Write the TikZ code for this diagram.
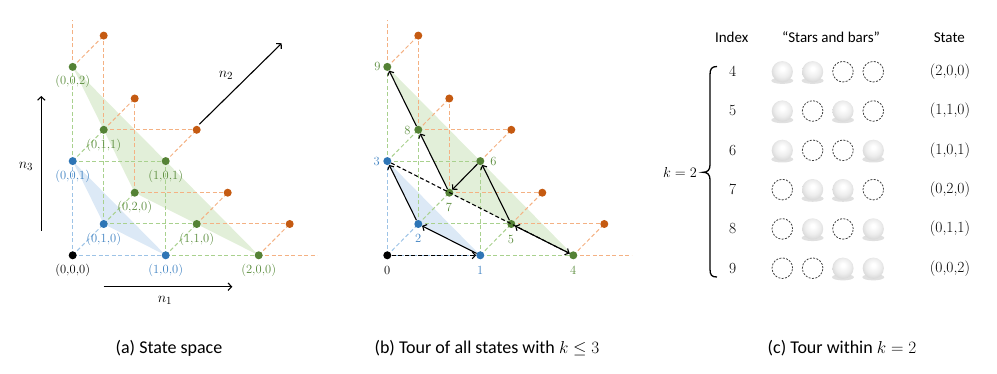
\documentclass[tikz,border=0pt]{standalone}
\usepackage{fontspec}
\newfontfamily\calfont{Carlito}
\usetikzlibrary{arrows.meta}
\definecolor{cblue}{HTML}{2E75B6}
\definecolor{cgreen}{HTML}{548235}
\definecolor{corange}{HTML}{C55A11}
\definecolor{lblue}{HTML}{9DC3E6}
\definecolor{lgreen}{HTML}{A9D18E}
\definecolor{lorange}{HTML}{F4B183}
\definecolor{fblue}{HTML}{DCE9F6}
\definecolor{fgreen}{HTML}{E2EFD9}
\definecolor{tblue}{HTML}{3F82C2}
\definecolor{tgreen}{HTML}{5A8C3C}
\pgfdeclareradialshading{softball}{\pgfpoint{0bp}{8bp}}{color(0bp)=(white); color(4bp)=(white); color(18bp)=(black!7); color(30bp)=(black!17); color(50bp)=(black!17)}
\tikzset{
  dot/.style={circle, inner sep=0pt, minimum size=8pt, draw=none},
  dedge/.style={dash pattern=on 4pt off 2.5pt, line width=1pt},
  lbl/.style={font=\fontsize{12.5}{14}\selectfont, inner sep=0pt},
  numlbl/.style={font=\fontsize{12.5}{14}\selectfont, inner sep=0pt},
  arr/.style={-{Straight Barb[length=3.2pt,width=7pt]}, line width=1.1pt, black},
  darr/.style={arr, dash pattern=on 4pt off 2.5pt},
  axis/.style={-{Straight Barb[length=3.5pt,width=7.5pt]}, line width=1.1pt, black},
  axlbl/.style={font=\fontsize{15}{18}\selectfont, inner sep=0pt},
  hdr/.style={font=\calfont\fontsize{15}{18}\selectfont, inner sep=0pt},
  captxt/.style={font=\calfont\fontsize{18}{22}\selectfont, inner sep=0pt, anchor=base},
  ctext/.style={font=\fontsize{15.5}{18}\selectfont, inner sep=0pt},
  emptyball/.style={draw=black!75, line width=0.8pt, dash pattern=on 2pt off 1.4pt},
  fullball/.style={shading=softball},
  ballshadow/.style={fill=black!12},
  bracestyle/.style={line width=1.3pt, black},
}
\newcommand\statepanel[2]{%
  \foreach \i/\j/\k in {0/0/0,1/0/0,0/1/0,0/0/1,2/0/0,1/1/0,1/0/1,0/2/0,0/1/1,0/0/2,2/1/0,1/2/0,1/1/1,0/2/1,0/1/2}{
    \coordinate (#1\i\j\k) at ({#2+93*\i+31*\j},{255.3-31.3*\j-94.2*\k});
  }
  \coordinate (#1cutv) at (#2,20);
  \coordinate (#1cuth) at ({#2+244.5},255.3);
  \fill[fblue] (#1001) -- (#1010) -- (#1100) -- cycle;
  \fill[fgreen] (#1002) -- (#1020) -- (#1200) -- cycle;
  \foreach \ea/\eb in {000/100,000/010,000/001}{\draw[dedge,lblue] (#1\ea) -- (#1\eb);}
  \foreach \ea/\eb in {100/200,100/110,100/101,010/110,010/020,010/011,001/101,001/011,001/002}{\draw[dedge,lgreen] (#1\ea) -- (#1\eb);}
  \foreach \ea/\eb in {002/cutv,002/012,011/012,011/021,020/021,011/111,101/111,020/120,110/120,110/210,200/210,200/cuth}{\draw[dedge,lorange] (#1\ea) -- (#1\eb);}
  \foreach \n/\c in {000/black,100/cblue,010/cblue,001/cblue,200/cgreen,110/cgreen,101/cgreen,020/cgreen,011/cgreen,002/cgreen,210/corange,120/corange,111/corange,021/corange,012/corange}{
    \node[dot,fill=\c] (#1d\n) at (#1\n) {};
  }
}
\newcommand\ballrow[5]{% y, then 4 flags
  \foreach \f [count=\c from 0] in {#2,#3,#4,#5}{
    \pgfmathsetmacro\bx{782.3+30.33*\c}
    \ifnum\f=1
      \fill[ballshadow] (\bx,{#1+9}) ellipse [x radius=11pt, y radius=3.2pt];
      \path[fullball] (\bx,#1) circle [radius=10.6pt];
    \else
      \draw[emptyball] (\bx,#1) circle [radius=10.3pt];
    \fi
  }
}
\begin{document}
\begin{tikzpicture}[x=1pt,y=-1pt]
\useasboundingbox (0,0) rectangle (997,374);
% ---------- panel (a)
\statepanel{a}{72.7}
\node[lbl,black]  (la000) at (72.7,270) {(0,0,0)};
\node[lbl,tblue]  (la100) at (165.7,270) {(1,0,0)};
\node[lbl,tgreen] (la200) at (258.7,270) {(2,0,0)};
\node[lbl,tblue]  (la010) at (103.7,239) {(0,1,0)};
\node[lbl,tgreen] (la110) at (196.7,239) {(1,1,0)};
\node[lbl,tgreen] (la020) at (134.7,207.5) {(0,2,0)};
\node[lbl,tblue]  (la001) at (72.7,176) {(0,0,1)};
\node[lbl,tgreen] (la101) at (165.7,176) {(1,0,1)};
\node[lbl,tgreen] (la011) at (103.7,145) {(0,1,1)};
\node[lbl,tgreen] (la002) at (72.7,81) {(0,0,2)};
\coordinate (n1s) at (103.7,286.7); \coordinate (n1e) at (232.3,286.7);
\coordinate (n3s) at (41.3,230.7);  \coordinate (n3e) at (41.3,96);
\coordinate (n2s) at (199.3,124.3); \coordinate (n2e) at (281.7,43.3);
\draw[axis] (n1s) -- (n1e);
\draw[axis] (n3s) -- (n3e);
\draw[axis] (n2s) -- (n2e);
\node[axlbl] (ln1) at (165,300) {$n_1$};
\node[axlbl] (ln3) at (26,166.7) {$n_3$};
\node[axlbl] (ln2) at (226,75) {$n_2$};
% ---------- panel (b)
\statepanel{b}{387.3}
\node[numlbl,black]  (lb0) at (387.3,270) {0};
\node[numlbl,tblue]  (lb1) at (480.3,270) {1};
\node[numlbl,tblue]  (lb2) at (418.3,238.5) {2};
\node[numlbl,tblue]  (lb3) at (376.7,161.1) {3};
\node[numlbl,tgreen] (lb4) at (573.3,270) {4};
\node[numlbl,tgreen] (lb5) at (511,239.5) {5};
\node[numlbl,tgreen] (lb6) at (493.5,161.1) {6};
\node[numlbl,tgreen] (lb7) at (449,207) {7};
\node[numlbl,tgreen] (lb8) at (407.5,130) {8};
\node[numlbl,tgreen] (lb9) at (377.5,66.8) {9};
\draw[darr] (bd000) -- (bd100);
\draw[arr] (bd100) -- (bd010);
\draw[arr] (bd010) -- (bd001);
\draw[darr] (bd001) -- (bd200);
\draw[arr] (bd200) -- (bd110);
\draw[arr] (bd110) -- (bd101);
\draw[arr] (bd101) -- (bd020);
\draw[arr] (bd020) -- (bd011);
\draw[arr] (bd011) -- (bd002);
% ---------- panel (c)
\node[hdr] (hidx) at (731.7,37.5) {Index};
\node[hdr] (hsb) at (831,37) {“Stars and bars”};
\node[hdr] (hst) at (949.3,37.5) {State};
\foreach \idx/\st/\fa/\fb/\fc/\fd [count=\r from 0] in {4/{(2,0,0)}/1/1/0/0, 5/{(1,1,0)}/1/0/1/0, 6/{(1,0,1)}/1/0/0/1, 7/{(0,2,0)}/0/1/1/0, 8/{(0,1,1)}/0/1/0/1, 9/{(0,0,2)}/0/0/1/1}{
  \pgfmathsetmacro\ry{71.7+39.3*\r}
  \node[ctext] (idx\idx) at (732.7,\ry) {\idx};
  \node[ctext] (st\idx) at (950,\ry) {\st};
  \ballrow{\ry}{\fa}{\fb}{\fc}{\fd}
}
\draw[bracestyle] (717,66.5) .. controls (711.5,66.5) and (710,69) .. (710,75) -- (710,165) .. controls (710,170) and (707.5,172.3) .. (703,172.3) .. controls (707.5,172.3) and (710,174.6) .. (710,179.6) -- (710,269) .. controls (710,275) and (711.5,277) .. (717,277);
\node[ctext] (kk) at (680,172.7) {$k=2$};
% ---------- captions
\node[captxt] (capa) at (169,354) {(a) State space};
\node[captxt] (capb) at (487,354) {(b) Tour of all states with $k\le 3$};
\node[captxt] (capc) at (842,354) {(c) Tour within $k=2$};
\end{tikzpicture}
\end{document}
